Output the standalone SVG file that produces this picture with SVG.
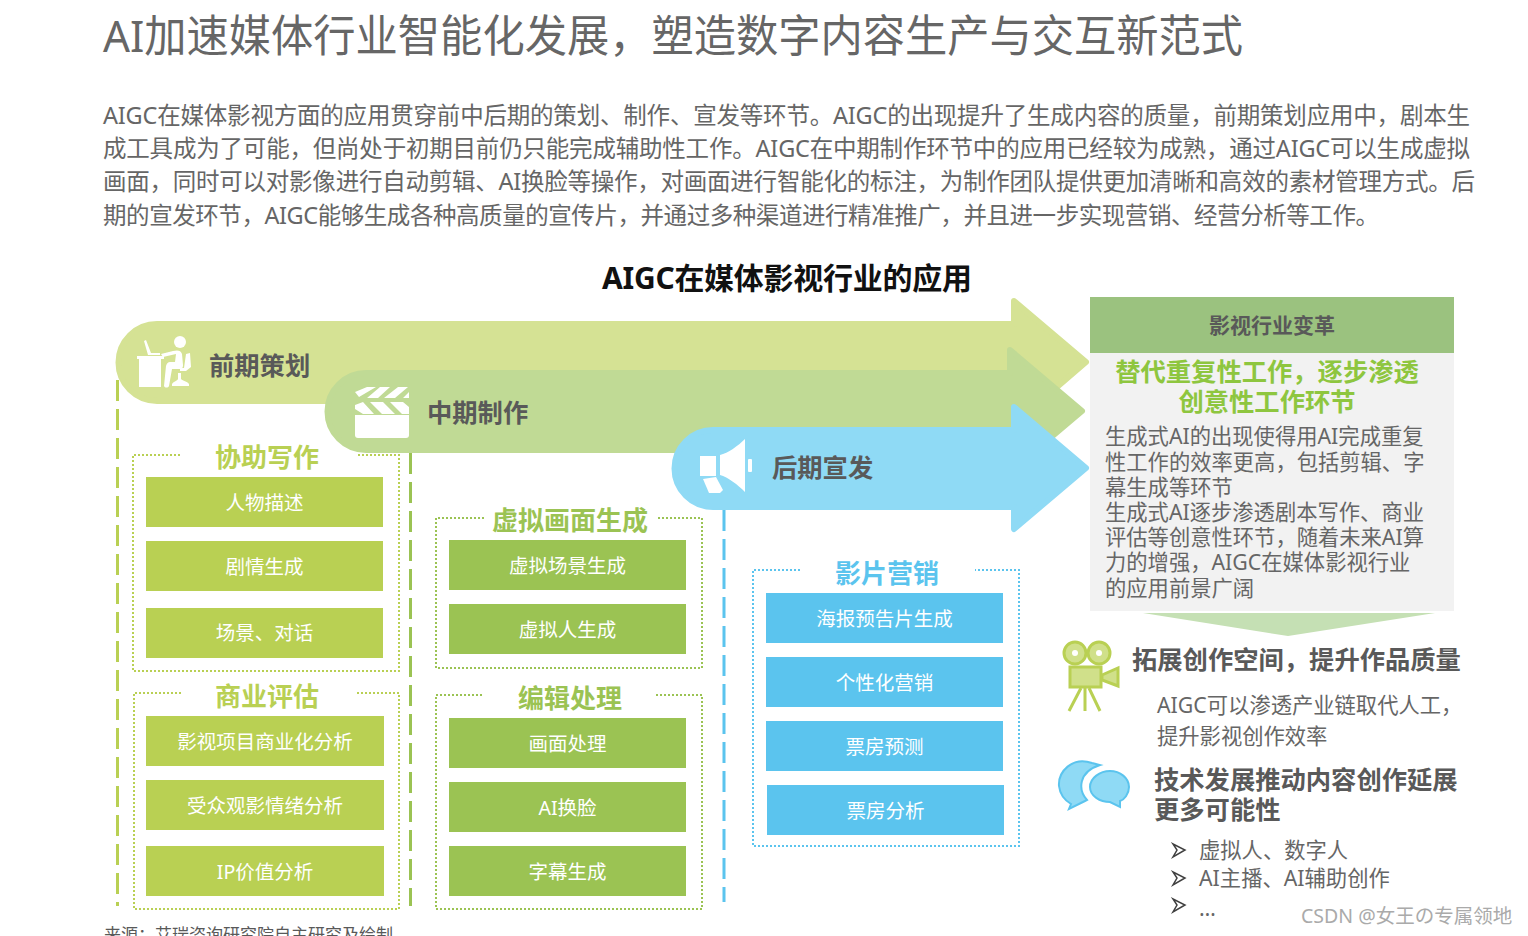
<svg xmlns="http://www.w3.org/2000/svg" width="1528" height="936" viewBox="0 0 1528 936">
<style>
text{font-family:"Noto Sans","Noto Sans CJK SC",sans-serif;fill:#595959}
.b{font-weight:700}
.c{text-anchor:middle}
.lab{fill:#fff;font-size:19.500px;text-anchor:middle;font-weight:400}
.body{font-size:23.500px;font-weight:400;fill:#666}
.pan{font-size:21.300px;font-weight:400;fill:#666}
.sec{font-size:26px;font-weight:700;text-anchor:middle}
.arrow{font-size:25.300px;font-weight:700}
.hd{font-size:25.300px;font-weight:700}
.dash{fill:none;stroke-width:3;stroke-dasharray:21 8}
.dot{fill:none;stroke-width:2;stroke-dasharray:2 2}
.w{fill:#fff}
</style>
<rect width="1528" height="936" fill="#fff"/>
<text x="103" y="52" font-size="44" font-weight="400" style="fill:#666" textLength="1140" lengthAdjust="spacingAndGlyphs">AI加速媒体行业智能化发展，塑造数字内容生产与交互新范式</text>
<g id="intro">
<text class="body" x="103" y="124" textLength="1367">AIGC在媒体影视方面的应用贯穿前中后期的策划、制作、宣发等环节。AIGC的出现提升了生成内容的质量，前期策划应用中，剧本生</text>
<text class="body" x="103" y="157" textLength="1367">成工具成为了可能，但尚处于初期目前仍只能完成辅助性工作。AIGC在中期制作环节中的应用已经较为成熟，通过AIGC可以生成虚拟</text>
<text class="body" x="103" y="190" textLength="1372">画面，同时可以对影像进行自动剪辑、AI换脸等操作，对画面进行智能化的标注，为制作团队提供更加清晰和高效的素材管理方式。后</text>
<text class="body" x="103" y="224" textLength="1276">期的宣发环节，AIGC能够生成各种高质量的宣传片，并通过多种渠道进行精准推广，并且进一步实现营销、经营分析等工作。</text>
</g>
<text x="787" y="289" font-size="30" class="b c" style="fill:#111" textLength="370">AIGC在媒体影视行业的应用</text>

<g id="connectors">
<path class="dash" stroke="#b9d053" d="M117.500 380V906"/>
<path class="dash" stroke="#9bc353" d="M410.500 453V906"/>
<path class="dash" stroke="#5bc4ee" d="M724 510V902"/>
</g>

<g id="arrow-pre">
<path fill="#d5e294" stroke="#d5e294" stroke-width="6" stroke-linejoin="round" d="M157 324H1014V301L1086 362L1014 424V401H157A38.500 38.500 0 0 1 157 324Z"/>
<g class="w">
<rect x="139" y="359" width="22" height="28"/><rect x="137" y="356" width="27" height="3"/>
<path d="M144 341l2-1 5 13h9v2H148Z"/>
<circle cx="180" cy="342" r="6"/>
<path d="M161 354l12-3c4-1 8-1 9 3l1 11c0 3-1 4-4 4h-7l-3 17c-1 2-4 2-5 0l2-20c1-3 2-4 4-4h5l1-8-13 3Z"/>
<path d="M186 354l4-1 1 14-5 4h-6v-3h4ZM172 384c2-3 5-3 6-5v-6h3v6c2 2 6 2 8 5v2H172Z"/>
</g>
<text class="arrow" x="209" y="375">前期策划</text>
</g>

<g id="arrow-mid">
<path fill="#c0da95" stroke="#c0da95" stroke-width="6" stroke-linejoin="round" d="M366 373H1010V350L1082 411L1010 472V450H366A38.500 38.500 0 0 1 366 373Z"/>
<g class="w">
<path d="M355 415h54v20c0 2-1 3-3 3h-48c-2 0-3-1-3-3Z"/>
<path d="M355 405l8-3 11 12h-11l-8-5ZM370 402h13l12 12h-13ZM390 402h13l6 5v7h-7ZM355 392l4 5 17-10h-9ZM367 398h11l12-11h-10ZM384 398h11l13-11h-10ZM403 398h6v-6Z"/>
</g>
<text class="arrow" x="427" y="422">中期制作</text>
</g>

<g id="arrow-post">
<path fill="#8fdaf5" stroke="#8fdaf5" stroke-width="6" stroke-linejoin="round" d="M713 430H1014V407L1086 468L1014 529V507H713A38.500 38.500 0 0 1 713 430Z"/>
<g class="w">
<rect x="700" y="456" width="16" height="20"/>
<path d="M703 479l13-2 7 13-3 3h-11Z"/>
<path d="M720 455c8-2 18-9 25-16v53c-7-7-17-15-25-17Z"/>
<rect x="748" y="459" width="4" height="13" rx="1"/>
</g>
<text class="arrow" x="772" y="477">后期宣发</text>
</g>

<g id="group-writing">
<path class="dot" stroke="#b9d053" d="M180 455H133V671H399V455H356"/>
<text class="sec" x="267" y="467" style="fill:#b9d053">协助写作</text>
<rect x="146" y="477" width="237" height="50" fill="#b9d053"/><text class="lab" x="264.500" y="510">人物描述</text>
<rect x="146" y="541" width="237" height="50" fill="#b9d053"/><text class="lab" x="264.500" y="574">剧情生成</text>
<rect x="146" y="608" width="237" height="50" fill="#b9d053"/><text class="lab" x="264.500" y="640">场景、对话</text>
</g>
<g id="group-biz">
<path class="dot" stroke="#b9d053" d="M181 693H134V909H399V693H357"/>
<text class="sec" x="267" y="706" style="fill:#b9d053">商业评估</text>
<rect x="146" y="716" width="238" height="50" fill="#b9d053"/><text class="lab" x="265" y="749">影视项目商业化分析</text>
<rect x="146" y="780" width="238" height="50" fill="#b9d053"/><text class="lab" x="265" y="813">受众观影情绪分析</text>
<rect x="146" y="846" width="238" height="50" fill="#b9d053"/><text class="lab" x="265" y="879">IP价值分析</text>
</g>
<g id="group-virtual">
<path class="dot" stroke="#9bc353" d="M484 518H436V668H702V518H656"/>
<text class="sec" x="570" y="530" style="fill:#9bc353">虚拟画面生成</text>
<rect x="449" y="540" width="237" height="50" fill="#9bc353"/><text class="lab" x="567.500" y="573">虚拟场景生成</text>
<rect x="449" y="604" width="237" height="50" fill="#9bc353"/><text class="lab" x="567.500" y="637">虚拟人生成</text>
</g>
<g id="group-edit">
<path class="dot" stroke="#9bc353" d="M482 695H436V909H702V695H656"/>
<text class="sec" x="570" y="708" style="fill:#9bc353">编辑处理</text>
<rect x="449" y="718" width="237" height="50" fill="#9bc353"/><text class="lab" x="567.500" y="751">画面处理</text>
<rect x="449" y="782" width="237" height="50" fill="#9bc353"/><text class="lab" x="567.500" y="815">AI换脸</text>
<rect x="449" y="846" width="237" height="50" fill="#9bc353"/><text class="lab" x="567.500" y="879">字幕生成</text>
</g>
<g id="group-marketing">
<path class="dot" stroke="#5bc4ee" d="M800 570H753V846H1019V570H975"/>
<text class="sec" x="887" y="583" style="fill:#5bc4ee">影片营销</text>
<rect x="766" y="593" width="237" height="50" fill="#5bc4ee"/><text class="lab" x="884.500" y="626">海报预告片生成</text>
<rect x="766" y="657" width="237" height="50" fill="#5bc4ee"/><text class="lab" x="884.500" y="690">个性化营销</text>
<rect x="766" y="721" width="237" height="50" fill="#5bc4ee"/><text class="lab" x="884.500" y="754">票房预测</text>
<rect x="767" y="785" width="237" height="50" fill="#5bc4ee"/><text class="lab" x="885.500" y="818">票房分析</text>
</g>

<g id="panel">
<rect x="1090" y="297" width="364" height="314" fill="#f2f2f2"/>
<rect x="1090" y="297" width="364" height="56" fill="#9bc27f"/>
<text x="1272" y="333" font-size="21" class="b c">影视行业变革</text>
<text x="1267" y="381" font-size="25.300" class="b c" style="fill:#8ec63f">替代重复性工作，逐步渗透</text>
<text x="1267" y="411" font-size="25.300" class="b c" style="fill:#8ec63f">创意性工作环节</text>
<text class="pan" x="1105" y="444">生成式AI的出现使得用AI完成重复</text>
<text class="pan" x="1105" y="470">性工作的效率更高，包括剪辑、字</text>
<text class="pan" x="1105" y="495">幕生成等环节</text>
<text class="pan" x="1105" y="520">生成式AI逐步渗透剧本写作、商业</text>
<text class="pan" x="1105" y="545">评估等创意性环节，随着未来AI算</text>
<text class="pan" x="1105" y="570">力的增强，AIGC在媒体影视行业</text>
<text class="pan" x="1105" y="596">的应用前景广阔</text>
<path d="M1143 613H1435L1288 636Z" fill="#c5e0b4"/>
</g>

<g id="outcome-1">
<g fill="#d0e08a" stroke="#b9d053" stroke-width="3">
<circle cx="1075" cy="653" r="11"/><circle cx="1099" cy="653" r="11"/>
<rect x="1070" y="667" width="31" height="20"/>
<path d="M1102 675l16-7v18l-16-6Z"/>
<path d="M1085 688V711M1081 688L1069 711M1089 688L1100 711" fill="none"/>
</g>
<circle cx="1075" cy="653" r="3" class="w"/><circle cx="1099" cy="653" r="3" class="w"/>
<text class="hd" x="1132" y="669">拓展创作空间，提升作品质量</text>
<text class="pan" x="1157" y="713">AIGC可以渗透产业链取代人工，</text>
<text class="pan" x="1157" y="744">提升影视创作效率</text>
</g>
<g id="outcome-2">
<path d="M1092 763C1072 756 1058 772 1059 786C1060 795 1066 801 1071 804L1069 809L1085 801L1087 800C1078 790 1078 772 1100 765Z" fill="#8fdaf5" stroke="#5bc4ee" stroke-width="2"/>
<path d="M1110 771C1120 771 1129 778 1129 787C1129 794 1124 800 1120 801V807L1110 802C1100 802 1090 796 1090 787C1090 778 1100 771 1110 771Z" fill="#8fdaf5" stroke="#5bc4ee" stroke-width="2"/>
<text class="hd" x="1154" y="789">技术发展推动内容创作延展</text>
<text class="hd" x="1154" y="819">更多可能性</text>
<g fill="#fff" stroke="#404040" stroke-width="1.500"><path d="M1173 844L1185 850L1173 857L1177 850Z"/><path d="M1173 872L1185 878L1173 885L1177 878Z"/><path d="M1173 899L1185 905L1173 912L1177 905Z"/></g>
<text class="pan" x="1199" y="858">虚拟人、数字人</text>
<text class="pan" x="1199" y="886">AI主播、AI辅助创作</text>
<text class="pan" x="1199" y="916">…</text>
</g>
<text x="104" y="941" font-size="17" font-weight="400">来源：艾瑞咨询研究院自主研究及绘制。</text>
<text x="1301" y="923" font-size="19.500" style="fill:#aaa">CSDN @女王の专属领地</text>
</svg>
